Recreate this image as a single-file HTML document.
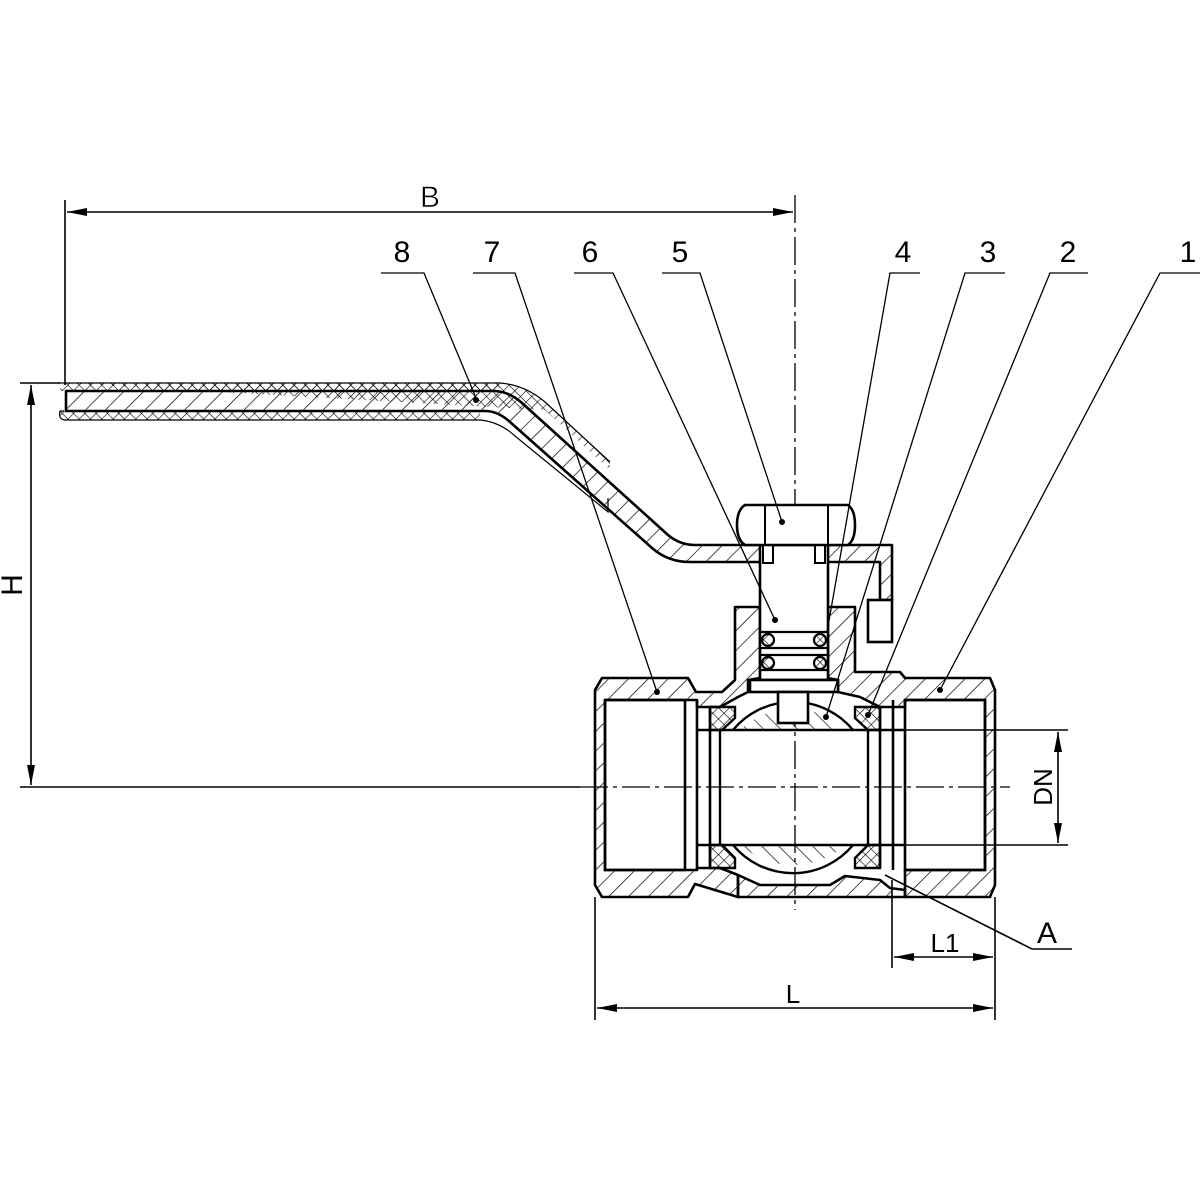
<!DOCTYPE html>
<html><head><meta charset="utf-8"><style>
html,body{margin:0;padding:0;background:#fff;}
svg{display:block}
text{font-family:"Liberation Sans",sans-serif;fill:#000;}
</style></head><body>
<svg width="1200" height="1200" viewBox="0 0 1200 1200" xmlns="http://www.w3.org/2000/svg">
<defs>
<pattern id="h" width="14" height="14" patternUnits="userSpaceOnUse" patternTransform="rotate(45)">
<line x1="0" y1="0" x2="0" y2="14" stroke="#000" stroke-width="1.4"/></pattern>
<pattern id="h2" width="12" height="12" patternUnits="userSpaceOnUse" patternTransform="rotate(-45)">
<line x1="0" y1="0" x2="0" y2="12" stroke="#000" stroke-width="1.3"/></pattern>
<pattern id="x" width="8" height="8" patternUnits="userSpaceOnUse" patternTransform="rotate(45)">
<line x1="0" y1="0" x2="0" y2="8" stroke="#000" stroke-width="1.2"/><line x1="0" y1="0" x2="8" y2="0" stroke="#000" stroke-width="1.2"/></pattern>
<marker id="a" viewBox="0 0 20 8" refX="20" refY="4" markerWidth="20" markerHeight="8" markerUnits="userSpaceOnUse" orient="auto-start-reverse">
<path d="M0,0 L20,4 L0,8 z" fill="#000"/></marker>
<clipPath id="ballc"><rect x="700" y="690" width="190" height="40"/><rect x="700" y="845" width="190" height="60"/></clipPath>
</defs>

<g stroke="#000" stroke-width="1.6" fill="none">
<line x1="65" y1="200" x2="65" y2="385"/>
<line x1="67" y1="212" x2="793" y2="212" marker-start="url(#a)" marker-end="url(#a)"/>
<line x1="20" y1="383" x2="60" y2="383"/>
<line x1="20" y1="787" x2="580" y2="787"/>
<line x1="31" y1="385" x2="31" y2="785" marker-start="url(#a)" marker-end="url(#a)"/>
<line x1="900" y1="730" x2="1068" y2="730"/>
<line x1="900" y1="845" x2="1068" y2="845"/>
<line x1="1058" y1="732" x2="1058" y2="843" marker-start="url(#a)" marker-end="url(#a)"/>
<line x1="595" y1="897" x2="595" y2="1020"/>
<line x1="995" y1="897" x2="995" y2="1020"/>
<line x1="892" y1="880" x2="892" y2="968"/>
<line x1="597" y1="1008" x2="993" y2="1008" marker-start="url(#a)" marker-end="url(#a)"/>
<line x1="894" y1="957" x2="993" y2="957" marker-start="url(#a)" marker-end="url(#a)"/>
<polyline points="885,875 1032,949 1072,949"/>
</g>
<g stroke="#000" stroke-width="1.3" stroke-dasharray="28,5,4,5" fill="none">
<line x1="795" y1="195" x2="795" y2="910"/>
<line x1="580" y1="787" x2="1010" y2="787"/>
</g>

<path d="M58,383 L500,383 Q525,385 545,402 L610,462 L610,470 L545,410" fill="url(#x)" stroke="none"/>
<path d="M58,383 L500,383 Q525,385 545,402 L610,462" fill="none" stroke="#000" stroke-width="1.2"/>
<path d="M64,411 L60,411 Q58,420 66,420 L480,420 Q500,422 515,436 L608,512 L608,498" fill="none" stroke="#000" stroke-width="1.2"/>
<rect x="60" y="411" width="420" height="9" fill="url(#x)"/>
<rect x="60" y="383" width="440" height="8" fill="url(#x)"/>
<path d="M66,391 L495,391 Q510,392 522,403 L668,535 Q680,545 695,545 L880,545 L892,545 L892,600 L880,600 L880,562 L740,562 L690,562 Q668,562 652,548 L510,422 Q498,411 485,411 L66,411 Z" fill="url(#h)" stroke="#000" stroke-width="2.6" stroke-linejoin="round"/>
<rect x="868" y="600" width="24" height="42" fill="#fff" stroke="#000" stroke-width="2.6"/>

<g fill="url(#h)" stroke="#000" stroke-width="2.6" stroke-linejoin="round">
<path d="M595,690 L602,678 L688,678 L696,692 L722,692 L735,680 L735,607 L760,607 L760,678 L748,680 L748,692 L738,697 L720,707 L697,707 L697,700 L605,700 L605,870 L697,870 L697,868 L720,868 L738,875 L738,897 L695,884 L688,897 L602,897 L595,885 Z"/>
<path d="M828,607 L855,607 L855,672 L900,672 L905,678 L990,678 L995,690 L995,885 L990,897 L905,897 L905,870 L985,870 L985,700 L905,700 L905,707 L880,707 L860,697 L838,692 L838,680 L828,678 Z"/>
<path d="M738,875 L760,885 L830,885 L845,876 L880,880 L890,888 L905,890 L905,897 L738,897 Z"/>
</g>
<g fill="none" stroke="#000" stroke-width="2.6">
<rect x="605" y="700" width="80" height="170"/>
<rect x="905" y="700" width="80" height="170"/>
<line x1="697" y1="730" x2="905" y2="730"/>
<line x1="697" y1="845" x2="905" y2="845"/>
<line x1="697" y1="700" x2="697" y2="870"/>
<line x1="710" y1="707" x2="710" y2="868"/>
<line x1="880" y1="707" x2="880" y2="868"/>
<line x1="893" y1="700" x2="893" y2="870"/>
</g>
<circle cx="793" cy="787" r="78" fill="url(#h2)" clip-path="url(#ballc)"/>
<g fill="none" stroke="#000" stroke-width="2.4">
<path d="M733,730 A78,78 0 0 1 853,730"/>
<path d="M733,845 A78,78 0 0 0 853,845"/>
<line x1="720" y1="730" x2="720" y2="845"/>
<line x1="868" y1="730" x2="868" y2="845"/>
</g>
<g fill="url(#x)" stroke="#000" stroke-width="2.4">
<path d="M710,707 L735,707 L735,718 L722,730 L710,730 Z"/>
<path d="M880,707 L855,707 L855,718 L868,730 L880,730 Z"/>
<path d="M710,868 L735,868 L735,858 L722,845 L710,845 Z"/>
<path d="M880,868 L855,868 L855,858 L868,845 L880,845 Z"/>
</g>
<g fill="#fff" stroke="#000" stroke-width="2.6">
<rect x="760" y="545" width="68" height="135"/>
<rect x="750" y="680" width="88" height="12"/>
<rect x="778" y="692" width="30" height="31"/>
</g>
<g stroke="#000" stroke-width="2.2" fill="url(#x)">
<line x1="760" y1="632" x2="828" y2="632" fill="none"/>
<line x1="760" y1="648" x2="828" y2="648" fill="none"/>
<line x1="760" y1="655" x2="828" y2="655" fill="none"/>
<line x1="760" y1="670" x2="828" y2="670" fill="none"/>
<circle cx="768" cy="640" r="6"/><circle cx="820" cy="640" r="6"/>
<circle cx="768" cy="663" r="6"/><circle cx="820" cy="663" r="6"/>
</g>
<g fill="#fff" stroke="#000" stroke-width="2">
<rect x="763" y="545" width="10" height="18"/><rect x="815" y="545" width="10" height="18"/>
</g>
<g fill="#fff" stroke="#000" stroke-width="2.6">
<path d="M745,505 L848,505 Q855,510 855,525 Q855,540 848,545 L745,545 Q737,540 737,525 Q737,510 745,505 Z"/>
<line x1="765" y1="505" x2="765" y2="545" stroke-width="2"/>
<line x1="828" y1="505" x2="828" y2="545" stroke-width="2"/>
</g>

<g stroke="#000" stroke-width="1.3" fill="none">
<polyline points="381,273 424,273 476,398"/>
<polyline points="473,273 515,273 657,692"/>
<polyline points="574,273 613,273 775,620"/>
<polyline points="662,273 700,273 782,522"/>
<polyline points="920,273 890,273 827,632"/>
<polyline points="1005,273 965,273 826,717"/>
<polyline points="1088,273 1050,273 868,715"/>
<polyline points="1200,273 1160,273 940,690"/>
</g>
<g fill="#000">
<circle cx="476" cy="400" r="3"/><circle cx="657" cy="692" r="3"/><circle cx="775" cy="620" r="3"/>
<circle cx="782" cy="522" r="3"/><circle cx="826" cy="717" r="3"/><circle cx="868" cy="715" r="3"/><circle cx="940" cy="690" r="3"/>
</g>

<g font-size="30" text-anchor="middle">
<text x="430" y="207" stroke="#fff" stroke-width="0.6">B</text>
<text x="402" y="262">8</text><text x="492" y="262">7</text><text x="590" y="262">6</text><text x="680" y="262">5</text>
<text x="903" y="262">4</text><text x="988" y="262">3</text><text x="1068" y="262">2</text><text x="1188" y="262">1</text>
<text x="1047" y="943">A</text>
<text x="945" y="952" font-size="26">L1</text>
<text x="793" y="1003" font-size="26">L</text>
<text transform="translate(22,585) rotate(-90)">H</text>
<text transform="translate(1052,787) rotate(-90)" font-size="26">DN</text>
</g>
</svg>
</body></html>
